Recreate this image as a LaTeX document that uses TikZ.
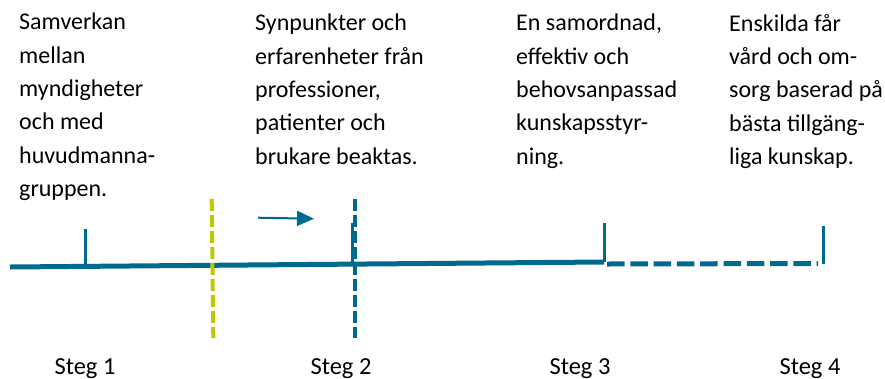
\documentclass[tikz,border=0pt]{standalone}
\usepackage{fontspec}
\setmainfont{Carlito}
\usepackage{tikz}
\usetikzlibrary{arrows.meta, positioning}
\definecolor{track}{HTML}{006A8E}
\definecolor{lime}{HTML}{C2C700}

\tikzset{
  goaltext/.style={anchor=north west, align=left, inner sep=0pt, font=\fontsize{24}{33.3}\selectfont},
  steglabel/.style={anchor=base, inner sep=0pt, font=\fontsize{24.5}{28}\selectfont},
  tick/.style={draw=track, line width=3pt},
  divider/.style={line width=4pt, dash pattern=on 12pt off 4pt},
}

\begin{document}
\begin{tikzpicture}[x=1pt,y=-1pt]
\useasboundingbox (0,0) rectangle (885,378);

% tidslinje
\coordinate (start) at (10,267);
\coordinate (s1) at (85,266.2);
\coordinate (s2) at (352,263.8);
\coordinate (s3) at (604,262);
\coordinate (s3b) at (607,264);
\coordinate (s4) at (823,264);
\draw[track, line width=5pt] (start) -- (s3);
\draw[track, line width=5pt, dash pattern=on 17.5pt off 5.8pt] (s3b) -- (818,263.5);

% markeringar
\draw[tick] (s1) -- ++(0,-37);
\draw[tick] (s2) -- ++(0,-41);
\draw[tick] (s3) -- ++(0,-39);
\draw[tick] (s4) -- ++(0,-38);

% skiljelinjer
\coordinate (ytop) at (211.7,199);
\coordinate (ybot) at (213.3,338);
\draw[lime, divider] (ytop) -- (ybot);
\coordinate (btop) at (355,199);
\coordinate (bbot) at (355,338);
\draw[track, divider] (btop) -- (bbot);

% riktning
\coordinate (pila) at (258,217.7);
\coordinate (pilb) at (314,218.7);
\draw[track, line width=2pt, -{Triangle[length=17pt,width=15pt]}] (pila) -- (pilb);

% mål
\node[goaltext] (mal1) at (19,13) {Samverkan\\mellan\\myndigheter\\och med\\huvudmanna-\\gruppen.};
\node[goaltext] (mal2) at (255,14) {Synpunkter och\\erfarenheter från\\professioner,\\patienter och\\brukare beaktas.};
\node[goaltext] (mal3) at (516,14) {En samordnad,\\effektiv och\\behovsanpassad\\kunskapsstyr-\\ning.};
\node[goaltext] (mal4) at (729,14) {Enskilda får\\vård och om-\\sorg baserad på\\bästa tillgäng-\\liga kunskap.};

% steg
\node[steglabel] (steg1) at (85,374) {Steg 1};
\node[steglabel] (steg2) at (341,374) {Steg 2};
\node[steglabel] (steg3) at (580,374) {Steg 3};
\node[steglabel] (steg4) at (810,374) {Steg 4};
\end{tikzpicture}
\end{document}
